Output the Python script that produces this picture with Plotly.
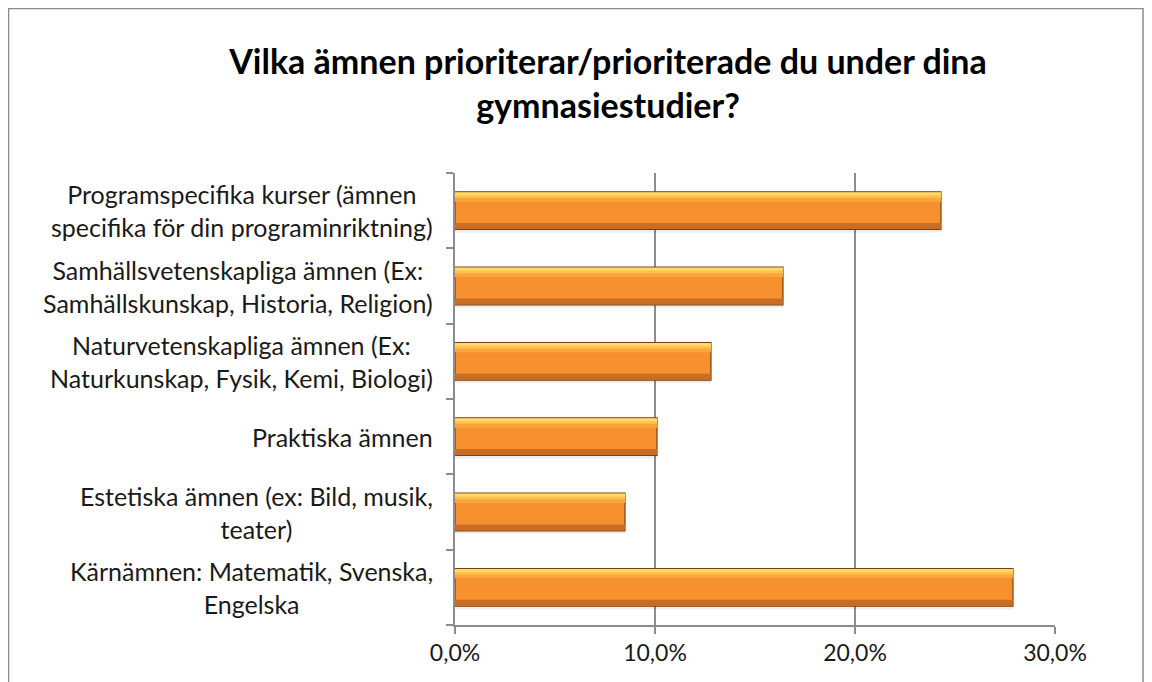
import plotly.graph_objects as go

# Data (bottom -> top, as plotted)
categories = [
    "Kärnämnen: Matematik, Svenska,<br>Engelska",
    "Estetiska ämnen (ex: Bild, musik,<br>teater)",
    "Praktiska ämnen",
    "Naturvetenskapliga ämnen (Ex:<br>Naturkunskap, Fysik, Kemi, Biologi)",
    "Samhällsvetenskapliga ämnen (Ex:<br>Samhällskunskap, Historia, Religion)",
    "Programspecifika kurser (ämnen<br>specifika för din programinriktning)",
]
values = [0.279, 0.085, 0.101, 0.128, 0.164, 0.243]
x_ticks = [0, 0.1, 0.2, 0.3]
x_ticktext = ["0,0%", "10,0%", "20,0%", "30,0%"]

TITLE = "Vilka ämnen prioriterar/prioriterade du under dina<br>gymnasiestudier?"
FONT = "Lato, 'Open Sans', sans-serif"
GRID = "#8C8C8C"
ORANGE = "#F7902E"

# page body has an 8px margin, so the figure is a bit smaller than the window
W, H = 1144, 674
L, R, T, B = 447, 97, 165, 57
PW, PH = W - L - R, H - T - B

fig = go.Figure()
# soft shadow, body, then bevel highlights
layers = [
    dict(w=0.5, off=-0.29, color="rgba(0,0,0,0.07)", line=0),
    dict(w=0.5, off=-0.25, color=ORANGE, line=1.2),
    dict(w=0.08, off=-0.245, color="#C96C24", line=0),
    dict(w=0.06, off=0.12, color="#FBA53C", line=0),
    dict(w=0.06, off=0.17, color="#FFC24E", line=0),
    dict(w=0.04, off=0.205, color="#FFD96A", line=0),
]
for ly in layers:
    fig.add_trace(go.Bar(
        x=values, y=categories, orientation="h",
        width=ly["w"], offset=ly["off"],
        marker=dict(color=ly["color"],
                    line=dict(color="#7A3E10", width=ly["line"])),
        hoverinfo="skip" if ly["color"] != ORANGE else None,
        showlegend=False,
    ))

for cat in categories:
    fig.add_annotation(x=0, xref="paper", y=cat, yref="y", text=cat,
                       xanchor="right", xshift=-20, align="center",
                       showarrow=False,
                       font=dict(family=FONT, size=25, color="#1a1a1a"))

fig.update_layout(
    width=W, height=H,
    paper_bgcolor="white", plot_bgcolor="white",
    barmode="overlay",
    margin=dict(l=L, r=R, t=T, b=B),
    font=dict(family=FONT, color="#1a1a1a"),
    title=dict(text=TITLE, x=600 / W, xanchor="center", y=1 - 66 / H, yanchor="middle",
               font=dict(family=FONT, size=34, color="black", weight="bold")),
    shapes=[dict(type="rect", xref="paper", yref="paper",
                 x0=-(L - 0.5) / PW, x1=(1135 - L) / PW,
                 y0=-0.3, y1=1 + (T - 0.5) / PH,
                 line=dict(color="#8C8C8C", width=1.5))],
)
fig.update_xaxes(range=[0, 0.3], tickvals=x_ticks, ticktext=x_ticktext,
                 showgrid=True, gridcolor=GRID, gridwidth=1.5,
                 showline=True, linecolor=GRID, linewidth=1.5,
                 ticks="outside", ticklen=7, tickcolor=GRID, tickwidth=1.5,
                 zeroline=False, tickfont=dict(size=23, color="#1a1a1a"))
fig.update_yaxes(categoryorder="array", categoryarray=categories,
                 showticklabels=False, showgrid=False,
                 showline=True, linecolor=GRID, linewidth=1.5,
                 ticks="outside", tickson="boundaries", ticklen=7,
                 tickcolor=GRID, tickwidth=1.5, zeroline=False)

fig.write_html("out.html")
